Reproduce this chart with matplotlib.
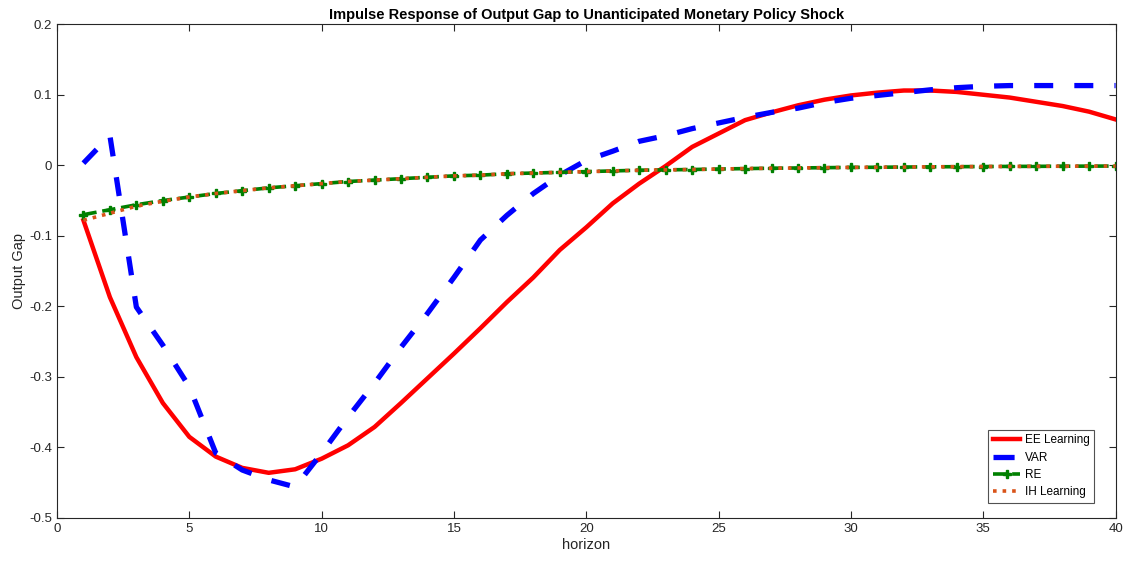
import matplotlib
matplotlib.use('Agg')
import matplotlib.pyplot as plt
import numpy as np

plt.rcParams['font.family'] = ['Liberation Sans', 'DejaVu Sans']

# horizon 1..40
horizon = np.arange(1, 41)

ee_learning = [-0.078, -0.187, -0.272, -0.337, -0.385, -0.413, -0.429, -0.436, -0.431, -0.416,
               -0.397, -0.371, -0.337, -0.302, -0.267, -0.231, -0.194, -0.159, -0.120, -0.088,
               -0.054, -0.026, -0.001, 0.026, 0.045, 0.064, 0.075, 0.085, 0.093, 0.099,
               0.103, 0.106, 0.106, 0.104, 0.100, 0.096, 0.090, 0.084, 0.076, 0.065]

var = [0.003, 0.042, -0.201, -0.255, -0.314, -0.408, -0.432, -0.446, -0.456, -0.408,
       -0.357, -0.309, -0.258, -0.210, -0.159, -0.106, -0.071, -0.040, -0.014, 0.007,
       0.020, 0.034, 0.042, 0.052, 0.060, 0.068, 0.075, 0.081, 0.089, 0.095,
       0.099, 0.103, 0.107, 0.110, 0.112, 0.113, 0.113, 0.113, 0.113, 0.113]

re = [-0.070, -0.063, -0.056, -0.050, -0.045, -0.040, -0.036, -0.032, -0.029, -0.026,
      -0.023, -0.021, -0.019, -0.017, -0.015, -0.014, -0.012, -0.011, -0.010, -0.009,
      -0.008, -0.007, -0.0065, -0.006, -0.0053, -0.0047, -0.0042, -0.0038, -0.0034, -0.0030,
      -0.0028, -0.0025, -0.0022, -0.0020, -0.0018, -0.0016, -0.0015, -0.0013, -0.0012, -0.0011]

ih_learning = [-0.078, -0.068, -0.058, -0.051, -0.045, -0.040, -0.036, -0.032, -0.029, -0.026,
               -0.023, -0.021, -0.019, -0.017, -0.015, -0.014, -0.012, -0.011, -0.010, -0.009,
               -0.008, -0.007, -0.0065, -0.006, -0.0053, -0.0047, -0.0042, -0.0038, -0.0034, -0.0030,
               -0.0028, -0.0025, -0.0022, -0.0020, -0.0018, -0.0016, -0.0015, -0.0013, -0.0012, -0.0011]

fig = plt.figure(figsize=(11.28, 5.63), dpi=100)
ax = fig.add_axes([0.0505, 0.08, 0.9385, 0.877])

ax.plot(horizon, ee_learning, color='red', lw=3.2, label='EE Learning')
ax.plot(horizon, var, color='blue', lw=3.8, ls=(0, (3.6, 4.0)), label='VAR')
ax.plot(horizon, re, color='#008000', lw=2.6, ls='--', marker='P', ms=6, label='RE')
ax.plot(horizon, ih_learning, color='#D95319', lw=2.6, ls=':', label='IH Learning')

ax.set_xlim(0, 40)
ax.set_ylim(-0.5, 0.2)
ax.set_xticks(np.arange(0, 41, 5))
ax.set_yticks(np.arange(-0.5, 0.21, 0.1))
ax.set_yticklabels(['-0.5', '-0.4', '-0.3', '-0.2', '-0.1', '0', '0.1', '0.2'])
ax.tick_params(direction='in', top=True, right=True, labelsize=9.5, length=5, colors='#262626')
for s in ax.spines.values():
    s.set_color('#262626')
    s.set_linewidth(0.8)

ax.set_xlabel('horizon', fontsize=10.5, color='#262626', labelpad=2)
ax.set_ylabel('Output Gap', fontsize=10.5, color='#262626', labelpad=2)
ax.set_title('Impulse Response of Output Gap to Unanticipated Monetary Policy Shock',
             fontsize=10.5, fontweight='bold', pad=4)

leg = ax.legend(loc='lower right', fontsize=8.5, handlelength=2.3, frameon=True, fancybox=False,
                edgecolor='#262626', bbox_to_anchor=(0.980, 0.030), borderaxespad=0,
                labelspacing=0.45, borderpad=0.4, handletextpad=0.4)
leg.get_frame().set_linewidth(0.8)
leg.legend_handles[1].set_linestyle((0, (4, 4)))

fig.savefig('out.png', dpi=100)
